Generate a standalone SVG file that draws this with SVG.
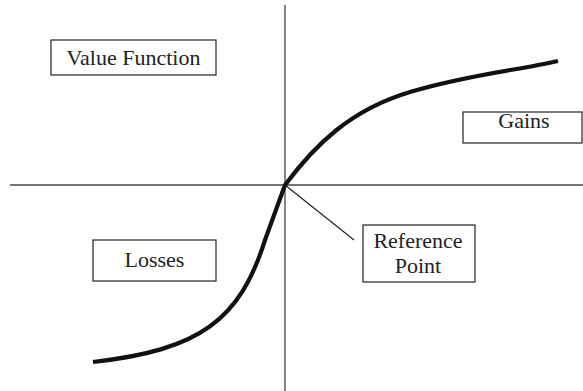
<svg xmlns="http://www.w3.org/2000/svg" width="583" height="391" viewBox="0 0 583 391">
<style>
.box{fill:#fff;stroke:#333;stroke-width:1.3}
.lbl{font-family:'Liberation Serif','Times New Roman',Times,serif;font-size:22px;fill:#222;text-anchor:middle}
.axis{stroke:#444;stroke-width:1.3;fill:none}
</style>
<rect width="583" height="391" fill="#fff"/>
<g id="connectors">
<line class="axis" x1="285" y1="5" x2="285" y2="391"/>
<line class="axis" x1="10" y1="185" x2="583" y2="185"/>
<line x1="285" y1="185" x2="354" y2="240" stroke="#222" stroke-width="1.2"/>
<path id="curve" d="M93,362 C200,350 240,320 265,240 L285,185 C315,145 350,110 410,92 S520,70 558,61" fill="none" stroke="#111" stroke-width="4.2" stroke-linejoin="round"/>
</g>
<g id="value-function">
<rect class="box" x="51" y="40" width="165" height="35"/>
<text class="lbl" x="133.5" y="65">Value Function</text>
</g>
<g id="gains">
<rect class="box" x="463" y="112" width="119" height="31"/>
<text class="lbl" x="524" y="128">Gains</text>
</g>
<g id="losses">
<rect class="box" x="93" y="240" width="123" height="41"/>
<text class="lbl" x="154.5" y="267">Losses</text>
</g>
<g id="reference-point">
<rect class="box" x="363" y="225" width="112" height="57"/>
<text class="lbl" x="418" y="248">Reference</text>
<text class="lbl" x="418" y="273">Point</text>
</g>
</svg>
